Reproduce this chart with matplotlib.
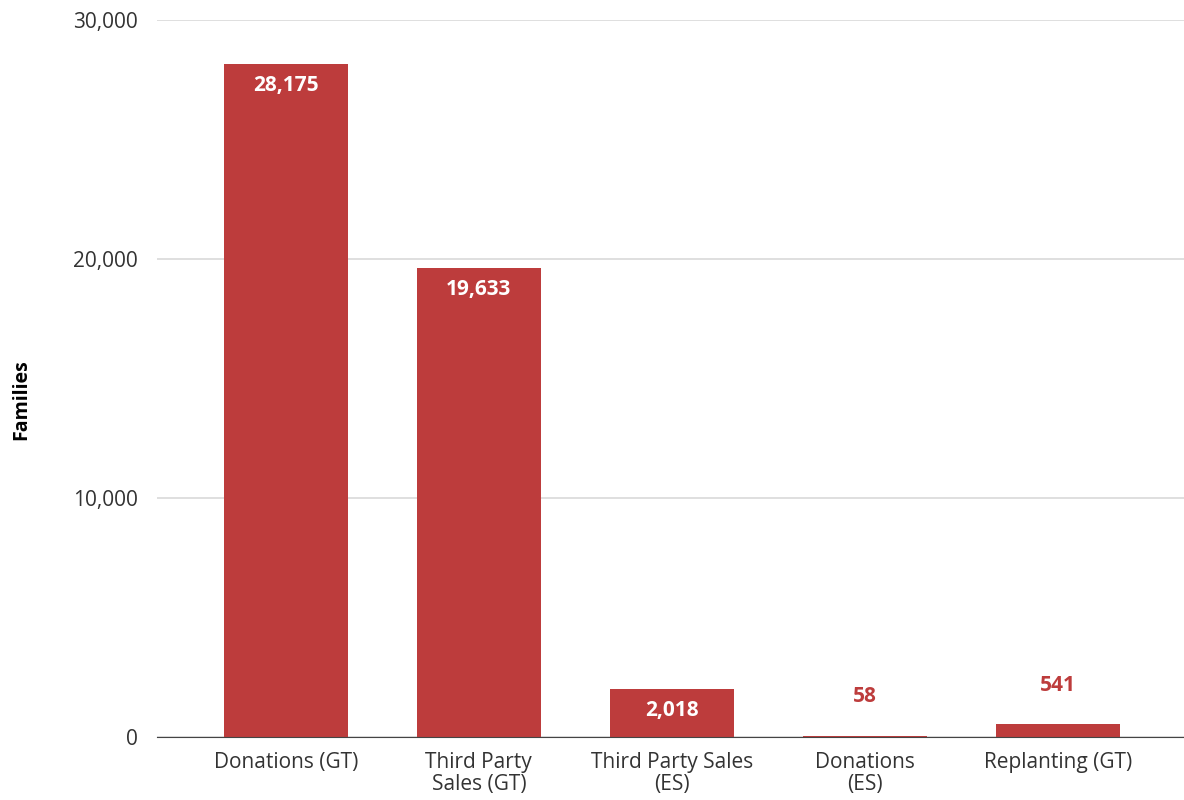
import matplotlib.pyplot as plt

# Chart data
categories = ['Donations (GT)', 'Third Party\nSales (GT)', 'Third Party Sales\n(ES)',
              'Donations\n(ES)', 'Replanting (GT)']
families = [28175, 19633, 2018, 58, 541]
# labels inside the bar for big values, above for small ones
inside = [True, True, True, False, False]

bar_color = '#BD3C3C'
plt.rcParams['font.family'] = ['Open Sans', 'DejaVu Sans']

fig = plt.figure(figsize=(11.84, 8), dpi=100)
ax = fig.add_axes([0.1326, 0.0788, 0.8674, 0.8962])

x = list(range(len(categories)))
ax.bar(x, families, width=0.642, color=bar_color, zorder=3)

# value labels
for i, v in enumerate(families):
    if inside[i]:
        ax.annotate(f'{v:,}', (i, v), xytext=(0, -22), textcoords='offset pixels',
                    ha='center', va='center', color='white', fontsize=15,
                    fontweight='bold', zorder=4)
    else:
        ax.annotate(f'{v:,}', (i, v), xytext=(0, 39), textcoords='offset pixels',
                    ha='center', va='center', color=bar_color, fontsize=15,
                    fontweight='bold', zorder=4)

ax.set_xlim(-0.668, 4.655)
ax.set_ylim(0, 30000)
ax.set_yticks([0, 10000, 20000, 30000])
ax.set_yticklabels(['0', '10,000', '20,000', '30,000'])
ax.set_xticks(x)
ax.set_xticklabels(categories, linespacing=1.05)

ax.tick_params(axis='both', length=0, labelsize=15, colors='#333333')
ax.tick_params(axis='y', pad=14)
ax.tick_params(axis='x', pad=11)
ax.grid(axis='y', color='#D9D9D9', linewidth=1.2, zorder=0)
for s in ['top', 'right', 'left']:
    ax.spines[s].set_visible(False)
ax.spines['bottom'].set_color('#444444')
ax.spines['bottom'].set_zorder(5)

fig.text(0.018, 0.5, 'Families', rotation=90, ha='center', va='center',
         fontsize=14, fontweight='bold', color='black')

fig.savefig('out.png', dpi=100)
